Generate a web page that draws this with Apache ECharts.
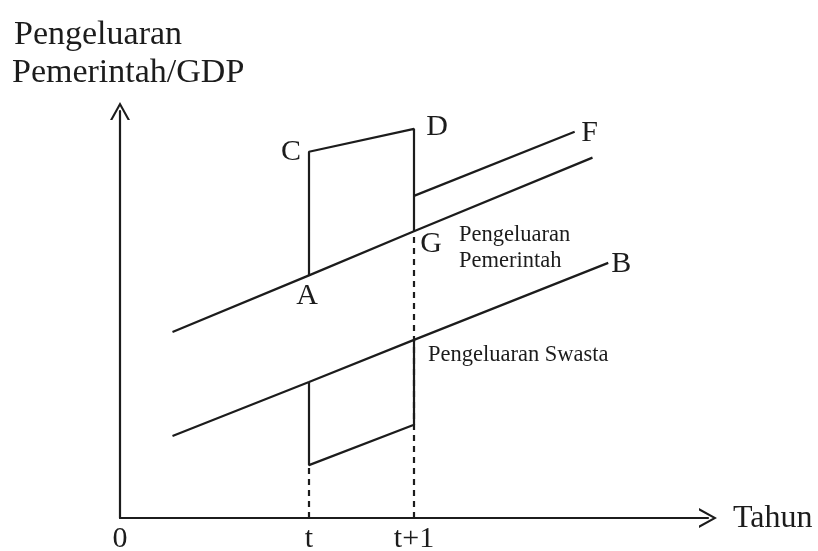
<!DOCTYPE html>
<html>
<head>
<meta charset="utf-8">
<script src="https://cdn.jsdelivr.net/npm/echarts@6/dist/echarts.min.js"></script>
<style>
  html, body { margin: 0; padding: 0; background: #fff; }
  #chart { width: 818px; height: 551px; }
</style>
</head>
<body>
<div id="chart"></div>
<script>
// Horizontal axis: years; vertical axis: government spending / GDP (relative units)
const yearTicks = [0, 1.8, 2.8];
const yearTickLabels = ['0', 't', 't+1'];
const xMax = 5.6;
const yMax = 97.8;

// Government spending trend, through A (year t) and G (year t+1)
const govTrend = [[0.5, 44.7], [1.8, 58.3], [2.8, 68.9], [4.5, 86.6]];
// Jump of government spending between t and t+1: A -> C -> D -> G
const govJump = [[1.8, 58.3], [1.8, 88.0], [2.8, 93.5], [2.8, 68.9]];
// Higher government spending path after t+1 (towards F)
const govNewTrend = [[2.8, 77.4], [4.33, 92.8]];
// Private spending trend (towards B)
const privTrend = [[0.5, 19.7], [1.8, 32.7], [2.8, 42.8], [4.65, 61.3]];
// Fall of private spending between t and t+1
const privDrop = [[1.8, 32.7], [1.8, 12.7], [2.8, 22.4], [2.8, 42.8]];
// Dashed guides from the time axis
const guideT = [[1.8, 0], [1.8, 12.7]];
const guideT1 = [[2.8, 0], [2.8, 68.9]];

// Named points
const pointNames = ['A', 'C', 'D', 'G', 'F', 'B'];
const pointValues = [[1.8, 58.3], [1.8, 88.0], [2.8, 93.5], [2.8, 68.9], [4.33, 92.8], [4.65, 61.3]];

const ink = '#1c1c1c';
const serif = '"Liberation Serif", "DejaVu Serif", serif';
// open arrow head, tip pointing up
const chevron = 'path://M10,0 L20,18 L17.6,18 L10,4.2 L2.4,18 L0,18 Z';

// where each point name sits relative to its point (px)
const nameOffsets = {
  A: [-2, 21], C: [-18, 0], D: [23, -2], G: [17, 13], F: [15, 1], B: [13, 1]
};

function lineSeries(data, dashed) {
  return {
    type: 'line',
    data: data,
    showSymbol: false,
    silent: true,
    animation: false,
    lineStyle: { color: ink, width: 2.2, type: dashed ? [6, 5] : 'solid' },
    z: 3
  };
}

const chart = echarts.init(document.getElementById('chart'), null, { renderer: 'canvas' });

chart.setOption({
  backgroundColor: '#ffffff',
  animation: false,
  grid: {
    left: 120, right: 818 - 708, top: 111, bottom: 551 - 518,
    outerBoundsMode: 'none'
  },
  xAxis: {
    type: 'value',
    min: 0,
    max: xMax,
    axisLine: {
      show: true,
      onZero: false,
      symbol: ['none', chevron],
      symbolSize: [20, 18],
      lineStyle: { color: ink, width: 2.2 }
    },
    axisTick: { show: false },
    splitLine: { show: false },
    axisLabel: {
      customValues: yearTicks,
      formatter: function (v) {
        const i = yearTicks.indexOf(v);
        return i >= 0 ? yearTickLabels[i] : '';
      },
      color: ink,
      fontFamily: serif,
      fontSize: 30,
      margin: 6
    }
  },
  yAxis: {
    type: 'value',
    min: 0,
    max: yMax,
    axisLine: {
      show: true,
      onZero: false,
      symbol: ['none', chevron],
      symbolSize: [22, 18],
      lineStyle: { color: ink, width: 2.2 }
    },
    axisTick: { show: false },
    splitLine: { show: false },
    axisLabel: { show: false }
  },
  series: [
    lineSeries(guideT, true),
    lineSeries(guideT1, true),
    lineSeries(govTrend),
    lineSeries(govJump),
    lineSeries(govNewTrend),
    lineSeries(privTrend),
    lineSeries(privDrop),
    {
      type: 'scatter',
      silent: true,
      symbolSize: 0,
      itemStyle: { opacity: 1 },
      data: pointNames.map(function (n, i) {
        return {
          name: n,
          value: pointValues[i],
          label: { offset: nameOffsets[n] }
        };
      }),
      label: {
        show: true,
        position: 'inside',
        formatter: '{b}',
        color: ink,
        opacity: 1,
        textBorderWidth: 0,
        fontFamily: serif,
        fontSize: 30
      },
      z: 4
    }
  ],
  graphic: [
    { type: 'text', left: 14, top: 18, style: { text: 'Pengeluaran', font: '34px ' + serif, fill: ink } },
    { type: 'text', left: 12, top: 56, style: { text: 'Pemerintah/GDP', font: '34px ' + serif, fill: ink } },
    { type: 'text', left: 733, top: 503, style: { text: 'Tahun', font: '32px ' + serif, fill: ink } },
    { type: 'text', left: 459, top: 224, style: { text: 'Pengeluaran', font: '22.5px ' + serif, fill: ink } },
    { type: 'text', left: 459, top: 250, style: { text: 'Pemerintah', font: '22.5px ' + serif, fill: ink } },
    { type: 'text', left: 428, top: 344, style: { text: 'Pengeluaran Swasta', font: '22.5px ' + serif, fill: ink } }
  ]
});
</script>
</body>
</html>
